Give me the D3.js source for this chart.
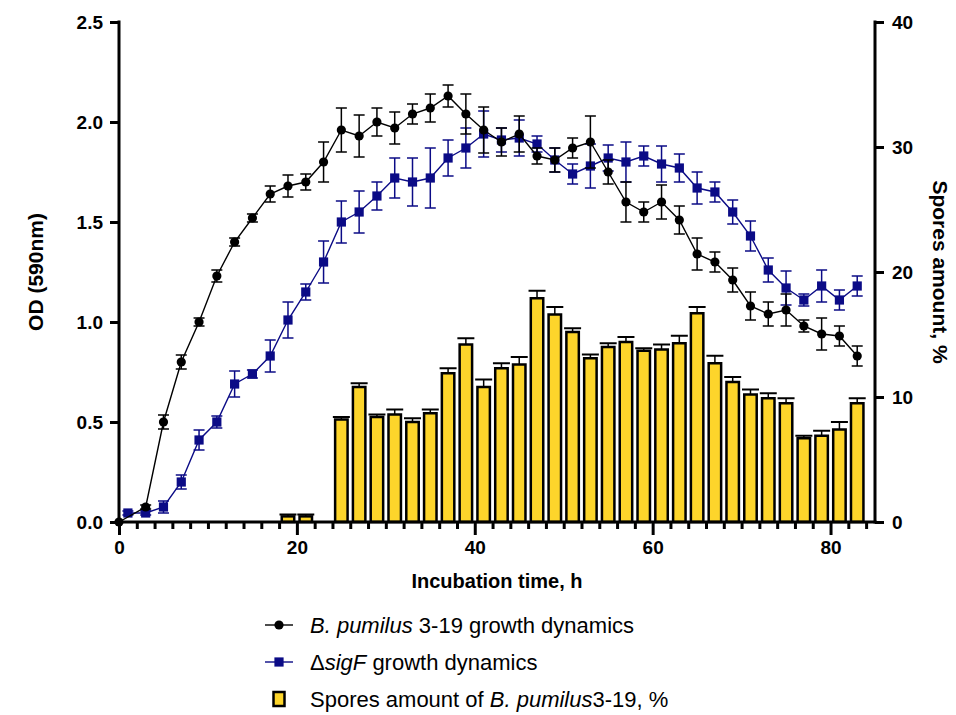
<!DOCTYPE html>
<html><head><meta charset="utf-8">
<script src="https://cdn.jsdelivr.net/npm/d3@7"></script>
<style>body{margin:0;background:#fff}svg{display:block}text{font-family:"Liberation Sans",Arial,sans-serif}</style>
</head><body>
<svg id="c" width="956" height="715"></svg>
<script>
// ---- data ----
const wtHours = [0,3,5,7,9,11,13,15,17,19,21,23,25,27,29,31,33,35,37,39,41,43,45,47,49,51,53,55,57,59,61,63,65,67,69,71,73,75,77,79,81,83];
const wtOD    = [0,0.075,0.50,0.80,1.00,1.23,1.40,1.52,1.64,1.68,1.70,1.80,1.96,1.93,2.00,1.97,2.04,2.07,2.13,2.04,1.96,1.90,1.94,1.83,1.81,1.87,1.90,1.75,1.60,1.55,1.60,1.51,1.34,1.30,1.21,1.08,1.04,1.06,0.98,0.94,0.93,0.83];
const wtErr   = [0,0.01,0.035,0.035,0.02,0.03,0.02,0.02,0.04,0.055,0.04,0.10,0.11,0.105,0.07,0.08,0.05,0.07,0.055,0.10,0.115,0.07,0.09,0.04,0.06,0.05,0.13,0.06,0.10,0.05,0.085,0.07,0.08,0.05,0.06,0.07,0.06,0.08,0.03,0.08,0.05,0.05];
const sigHours = [1,3,5,7,9,11,13,15,17,19,21,23,25,27,29,31,33,35,37,39,41,43,45,47,49,51,53,55,57,59,61,63,65,67,69,71,73,75,77,79,81,83];
const sigOD    = [0.045,0.045,0.075,0.20,0.41,0.50,0.69,0.74,0.83,1.01,1.15,1.30,1.50,1.55,1.63,1.72,1.70,1.72,1.82,1.87,1.94,1.91,1.92,1.89,1.81,1.74,1.78,1.82,1.80,1.83,1.79,1.77,1.67,1.65,1.55,1.43,1.26,1.17,1.11,1.18,1.11,1.18];
const sigErr   = [0.01,0.01,0.03,0.035,0.05,0.03,0.065,0.02,0.08,0.09,0.04,0.105,0.105,0.105,0.07,0.10,0.12,0.15,0.09,0.10,0.115,0.06,0.09,0.04,0.06,0.05,0.11,0.065,0.10,0.05,0.09,0.07,0.08,0.05,0.06,0.075,0.06,0.085,0.03,0.08,0.05,0.05];
const sporeHours = [19,21,25,27,29,31,33,35,37,39,41,43,45,47,49,51,53,55,57,59,61,63,65,67,69,71,73,75,77,79,81,83];
const sporePct   = [0.45,0.45,8.2,10.8,8.4,8.6,8.0,8.7,11.9,14.2,10.8,12.3,12.6,17.9,16.6,15.2,13.1,14.0,14.4,13.7,13.8,14.3,16.7,12.7,11.2,10.2,9.9,9.5,6.7,6.9,7.4,9.5];
const sporeErr   = [0.15,0.15,0.2,0.3,0.2,0.4,0.3,0.3,0.4,0.5,0.6,0.4,0.6,0.6,0.6,0.3,0.3,0.3,0.4,0.2,0.4,0.6,0.5,0.6,0.4,0.4,0.4,0.4,0.2,0.4,0.6,0.4];
const xTicks = [0,20,40,60,80];
const yLeftTicks = [0,0.5,1.0,1.5,2.0,2.5];
const yRightTicks = [0,10,20,30,40];

// ---- layout ----
const svg = d3.select("#c");
const L = 119, R = 875, T = 22, B = 522;
const x = d3.scaleLinear().domain([0,85]).range([L,R]);
const yL = d3.scaleLinear().domain([0,2.5]).range([B,T]);
const yR = d3.scaleLinear().domain([0,40]).range([B,T]);
const yellow = "#FDD52B", navy = "#0B0B86";

// bars
const barW = x(1.4)-x(0);
const bars = svg.append("g");
sporeHours.forEach((h,i)=>{
  const top = yR(sporePct[i]), et = yR(sporePct[i]+sporeErr[i]);
  bars.append("line").attr("x1",x(h)).attr("x2",x(h)).attr("y1",top).attr("y2",et).attr("stroke","#000").attr("stroke-width",1.5);
  bars.append("line").attr("x1",x(h)-8.5).attr("x2",x(h)+8.5).attr("y1",et).attr("y2",et).attr("stroke","#000").attr("stroke-width",2);
  bars.append("rect").attr("x",x(h)-barW/2).attr("y",top).attr("width",barW).attr("height",B-top)
    .attr("fill",yellow).attr("stroke","#000").attr("stroke-width",2.5);
});

// series
function series(hours, vals, errs, color, shape){
  const g = svg.append("g");
  g.append("path").datum(hours.map((h,i)=>[h,vals[i]]))
    .attr("d", d3.line().x(d=>x(d[0])).y(d=>yL(d[1])))
    .attr("fill","none").attr("stroke",color).attr("stroke-width",1.4);
  hours.forEach((h,i)=>{
    if(errs[i] > 0){
      const y1 = yL(vals[i]-errs[i]), y2 = yL(vals[i]+errs[i]);
      g.append("line").attr("x1",x(h)).attr("x2",x(h)).attr("y1",y1).attr("y2",y2).attr("stroke",color).attr("stroke-width",1.5);
      [y1,y2].forEach(yy=>g.append("line").attr("x1",x(h)-5.5).attr("x2",x(h)+5.5).attr("y1",yy).attr("y2",yy).attr("stroke",color).attr("stroke-width",1.5));
    }
  });
  hours.forEach((h,i)=>{
    if(shape==="circle") g.append("circle").attr("cx",x(h)).attr("cy",yL(vals[i])).attr("r",4.6).attr("fill",color);
    else g.append("rect").attr("x",x(h)-4.6).attr("y",yL(vals[i])-4.6).attr("width",9.2).attr("height",9.2).attr("fill",color);
  });
}
series(sigHours, sigOD, sigErr, navy, "square");
series(wtHours, wtOD, wtErr, "#000", "circle");

// axes
const ax = svg.append("g").attr("stroke","#000").attr("stroke-width",3);
ax.append("line").attr("x1",L).attr("x2",L).attr("y1",T-1.5).attr("y2",B+1.5);
ax.append("line").attr("x1",R).attr("x2",R).attr("y1",T-1.5).attr("y2",B+1.5);
ax.append("line").attr("x1",L-1.5).attr("x2",R+1.5).attr("y1",B).attr("y2",B);

const xAxis = d3.axisBottom(x).tickValues(d3.range(0,86,2)).tickSize(6).tickFormat("");
const gx = svg.append("g").attr("transform",`translate(0,${B})`).call(xAxis);
gx.select(".domain").remove();
gx.selectAll(".tick line").attr("stroke-width",3).attr("y2",d=>xTicks.includes(d)?13:7);
const xLab = d3.axisBottom(x).tickValues(xTicks).tickSize(0).tickPadding(19);
const gx2 = svg.append("g").attr("transform",`translate(0,${B})`).call(xLab);
gx2.select(".domain").remove();

const gyl = svg.append("g").attr("transform",`translate(${L},0)`)
  .call(d3.axisLeft(yL).tickValues(yLeftTicks).tickSize(9).tickPadding(7).tickFormat(d3.format(".1f")));
gyl.select(".domain").remove();
gyl.selectAll(".tick line").attr("stroke-width",3);
const gyr = svg.append("g").attr("transform",`translate(${R},0)`)
  .call(d3.axisRight(yR).tickValues(yRightTicks).tickSize(9).tickPadding(8));
gyr.select(".domain").remove();
gyr.selectAll(".tick line").attr("stroke-width",3);
svg.selectAll(".tick text").attr("font-family","'Liberation Sans',Arial,sans-serif").attr("font-size",19).attr("font-weight","bold").attr("fill","#000");

// titles
svg.append("text").attr("x",497).attr("y",588).attr("text-anchor","middle").attr("font-size",20).attr("font-weight","bold").text("Incubation time, h");
svg.append("text").attr("transform",`translate(43,${(T+B)/2}) rotate(-90)`).attr("text-anchor","middle").attr("font-size",21).attr("font-weight","bold").text("OD (590nm)");
svg.append("text").attr("transform",`translate(933,${(T+B)/2}) rotate(90)`).attr("text-anchor","middle").attr("font-size",21).attr("font-weight","bold").text("Spores amount, %");

// legend
const lg = svg.append("g").attr("font-size",22);
const rows = [625,662,699];
lg.append("line").attr("x1",265).attr("x2",293).attr("y1",rows[0]).attr("y2",rows[0]).attr("stroke","#000").attr("stroke-width",1.4);
lg.append("circle").attr("cx",279).attr("cy",rows[0]).attr("r",4.6).attr("fill","#000");
lg.append("line").attr("x1",265).attr("x2",293).attr("y1",rows[1]).attr("y2",rows[1]).attr("stroke",navy).attr("stroke-width",1.4);
lg.append("rect").attr("x",274.4).attr("y",rows[1]-4.6).attr("width",9.2).attr("height",9.2).attr("fill",navy);
lg.append("rect").attr("x",273.5).attr("y",rows[2]-7).attr("width",11).attr("height",14).attr("fill",yellow).attr("stroke","#000").attr("stroke-width",2.5);
function legText(y, parts){
  const t = lg.append("text").attr("x",310).attr("y",y).attr("dy","0.35em");
  parts.forEach(p=>t.append("tspan").attr("font-style",p[1]?"italic":"normal").text(p[0]));
}
legText(rows[0], [["B. pumilus",1],[" 3-19 growth dynamics",0]]);
legText(rows[1], [["Δ",0],["sigF",1],[" growth dynamics",0]]);
legText(rows[2], [["Spores amount of ",0],["B. pumilus",1],["3-19, %",0]]);
</script>
</body></html>
